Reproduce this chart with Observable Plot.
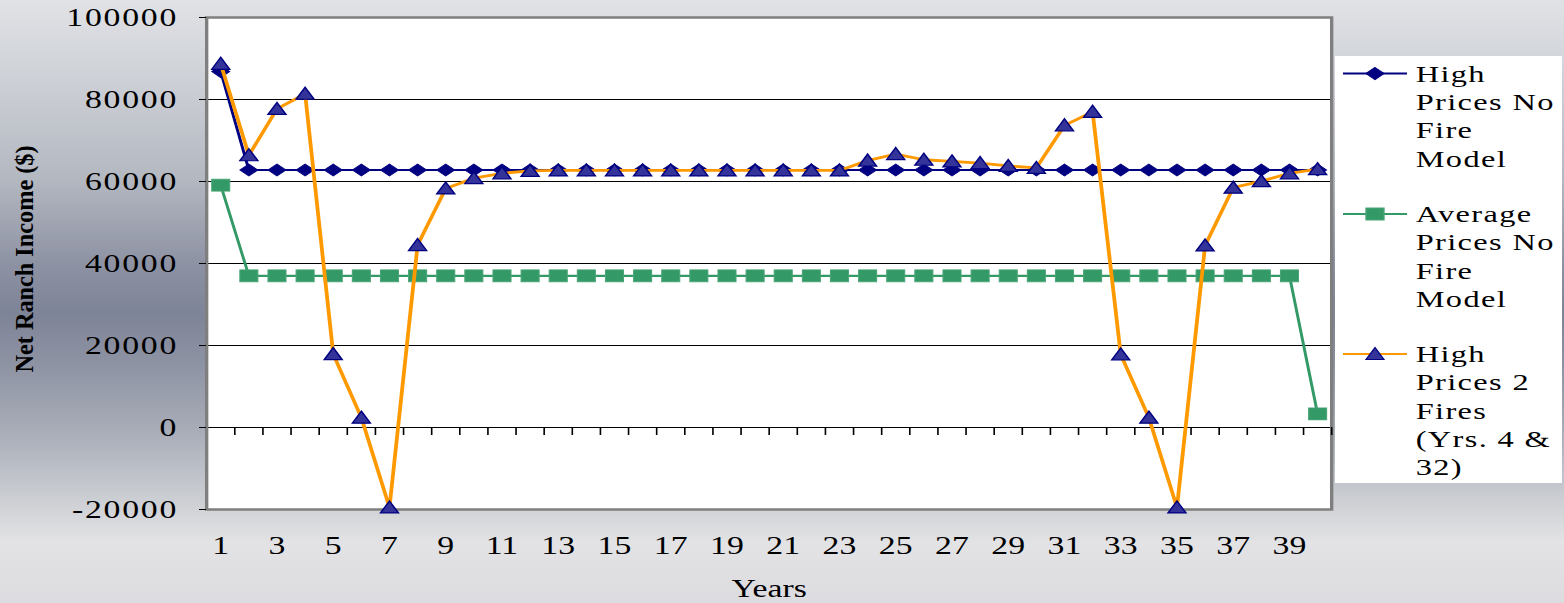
<!DOCTYPE html>
<html>
<head>
<meta charset="utf-8">
<script src="https://cdn.jsdelivr.net/npm/d3@7"></script>
<script src="https://cdn.jsdelivr.net/npm/@observablehq/plot@0.6"></script>
<style>
html, body { margin: 0; padding: 0; }
#chart {
  width: 1564px; height: 603px; position: relative; overflow: hidden;
  background: linear-gradient(to bottom, #e1e2e6 0%, #d2d5da 10%, #b3b7c0 30%, #8a8fa1 45%, #7e8497 52%, #8d92a3 60%, #aaaeb9 72%, #c9ccd1 82%, #e3e3e5 90%, #dcdce0 100%);
}
#chart svg { display: block; }
</style>
</head>
<body>
<div id="chart"></div>
<script>
// ---- data ----
const years = [1,2,3,4,5,6,7,8,9,10,11,12,13,14,15,16,17,18,19,20,21,22,23,24,25,26,27,28,29,30,31,32,33,34,35,36,37,38,39,40];
const xTickLabels = [1,3,5,7,9,11,13,15,17,19,21,23,25,27,29,31,33,35,37,39];
const yTickValues = [-20000,0,20000,40000,60000,80000,100000];
const gridValues = [0,20000,40000,60000,80000];
const seriesNames = ["High Prices No Fire Model", "Average Prices No Fire Model", "High Prices 2 Fires (Yrs. 4 & 32)"];
const legendLines = [["High","Prices No","Fire","Model"],["Average","Prices No","Fire","Model"],["High","Prices 2","Fires","(Yrs. 4 &","32)"]];
const highNoFire = [86800,62800,62800,62800,62800,62800,62800,62800,62800,62800,62800,62800,62800,62800,62800,62800,62800,62800,62800,62800,62800,62800,62800,62800,62800,62800,62800,62800,62800,62800,62800,62800,62800,62800,62800,62800,62800,62800,62800,62800];
const avgNoFire = [59100,37000,37000,37000,37000,37000,37000,37000,37000,37000,37000,37000,37000,37000,37000,37000,37000,37000,37000,37000,37000,37000,37000,37000,37000,37000,37000,37000,37000,37000,37000,37000,37000,37000,37000,37000,37000,37000,37000,3300];
const highTwoFires = [88700,66400,77700,81400,17900,2400,-19500,44500,58300,60800,62000,62600,62700,62700,62700,62700,62700,62700,62700,62700,62700,62700,62700,65100,66700,65300,64900,64500,63800,63300,73700,77000,17800,2400,-19500,44400,58500,60100,62000,63000];
const xAxisTitle = "Years";
const yAxisTitle = "Net Ranch Income ($)";

// ---- build ----
const S = 1.35;              // horizontal stretch of the picture
const W = 1564 / S;
const rowsOf = (vals, s) => years.map((yr, i) => ({year: yr, value: vals[i], series: s}));
const rowsA = rowsOf(highNoFire, seriesNames[0]);
const rowsB = rowsOf(avgNoFire, seriesNames[1]);
const rowsC = rowsOf(highTwoFires, seriesNames[2]);
const boundaries = years.map(y => y + 0.5);

const hw = 9 / S;
const diamond = {draw(c) { c.moveTo(0, -6); c.lineTo(hw, 0); c.lineTo(0, 6); c.lineTo(-hw, 0); c.closePath(); }};
const square = {draw(c) { c.moveTo(-hw, -6); c.lineTo(hw, -6); c.lineTo(hw, 6); c.lineTo(-hw, 6); c.closePath(); }};
const triangle = {draw(c) { c.moveTo(0, -6.5); c.lineTo(hw, 5.5); c.lineTo(-hw, 5.5); c.closePath(); }};

const font = "'Liberation Serif', 'Times New Roman', serif";

const svg = Plot.plot({
  width: W, height: 603,
  marginLeft: 206 / S, marginRight: W - 1331 / S, marginTop: 17, marginBottom: 94,
  style: {background: "transparent", fontFamily: font, fontSize: "25px", color: "#000", overflow: "visible"},
  x: {type: "linear", domain: [0.5, 40.5]},
  y: {type: "linear", domain: [-20000, 100000]},
  marks: [
    Plot.frame({fill: "white", stroke: "none"}),
    Plot.gridY(gridValues, {stroke: "#000", strokeOpacity: 1, strokeWidth: 1}),
    Plot.frame({stroke: "#7f7f7f", strokeWidth: 2.5}),
    Plot.ruleX(boundaries, {x: d => d, y1: 0, y2: 0, insetBottom: -8, stroke: "#000", strokeWidth: 1.2}),
    Plot.axisY({ticks: yTickValues, tickSize: 7 / S, tickPadding: 16, tickFormat: d => String(d), label: null, stroke: "#000"}),
    Plot.axisX({ticks: xTickLabels, tickSize: 0, tickPadding: 27, tickFormat: d => String(d), label: null}),
    Plot.line(rowsA, {x: "year", y: "value", stroke: "#000080", strokeWidth: 2.2}),
    Plot.dot(rowsA, {x: "year", y: "value", symbol: diamond, fill: "#000080", stroke: "#000080", strokeWidth: 0.8}),
    Plot.line(rowsB, {x: "year", y: "value", stroke: "#339966", strokeWidth: 2.2}),
    Plot.dot(rowsB, {x: "year", y: "value", symbol: square, fill: "#339966", stroke: "#4aa577", strokeWidth: 0.8}),
    Plot.line(rowsC, {x: "year", y: "value", stroke: "#ff9900", strokeWidth: 2.8}),
    Plot.dot(rowsC, {x: "year", y: "value", symbol: triangle, fill: "#333399", stroke: "#000080", strokeWidth: 1.2}),
    Plot.text([xAxisTitle], {frameAnchor: "bottom", dy: 87, fontSize: 25, fill: "#000"}),
    Plot.text([yAxisTitle], {frameAnchor: "left", rotate: -90, textAnchor: "start", dx: 17.5 - 206 / S, dy: 372 - 263, fontSize: 19, fontWeight: "bold", fill: "#000"})
  ]
});

svg.setAttribute("width", 1564);
svg.setAttribute("height", 603);
svg.setAttribute("viewBox", `0 0 ${W} 603`);
svg.setAttribute("preserveAspectRatio", "none");
svg.style.width = "1564px";
svg.style.height = "603px";
svg.style.maxWidth = "none";

// squeeze y-title to the reference length
d3.select(svg).selectAll("text").filter(function() { return this.textContent === yAxisTitle; })
  .attr("text-anchor", "start").attr("textLength", 227).attr("lengthAdjust", "spacingAndGlyphs");

// widen the y tick labels a little, as in the reference
d3.select(svg).selectAll("[aria-label='y-axis tick label']")
  .attr("letter-spacing", 1.3);

// legend
const lg = d3.select(svg).append("g").attr("font-family", font).attr("font-size", 24)
  .attr("letter-spacing", 1).attr("text-anchor", "start");
lg.append("rect").attr("x", 1335 / S).attr("y", 56).attr("width", (1562 - 1335) / S).attr("height", 427).attr("fill", "white");
const legendStyle = [
  {stroke: "#000080", sym: diamond, fill: "#000080", sstroke: "#000080", my: 73.5, base: 81.7},
  {stroke: "#339966", sym: square, fill: "#339966", sstroke: "#4aa577", my: 214, base: 222},
  {stroke: "#ff9900", sym: triangle, fill: "#333399", sstroke: "#000080", my: 354, base: 362}
];
legendStyle.forEach((e, k) => {
  lg.append("line").attr("x1", 1343 / S).attr("x2", 1407 / S).attr("y1", e.my).attr("y2", e.my)
    .attr("stroke", e.stroke).attr("stroke-width", 2.2);
  const p = d3.path(); e.sym.draw(p);
  lg.append("path").attr("d", p.toString()).attr("transform", `translate(${1375 / S},${e.my})`)
    .attr("fill", e.fill).attr("stroke", e.sstroke).attr("stroke-width", 1);
  legendLines[k].forEach((t, i) => {
    lg.append("text").attr("x", 1415.7 / S).attr("y", e.base + i * 28.33)
      .attr("text-anchor", "start").attr("fill", "#000").text(t);
  });
});

document.getElementById("chart").appendChild(svg);
</script>
</body>
</html>
